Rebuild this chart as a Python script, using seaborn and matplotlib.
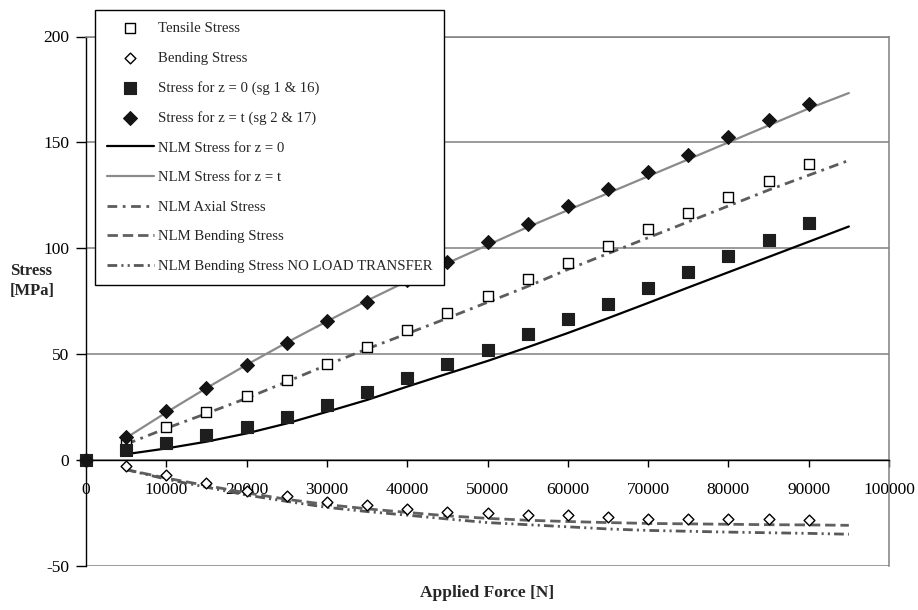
import matplotlib
matplotlib.use("Agg")
import matplotlib.pyplot as plt
import seaborn as sns

# ---------------- data ----------------
force_pts = [0, 5000, 10000, 15000, 20000, 25000, 30000, 35000, 40000, 45000,
             50000, 55000, 60000, 65000, 70000, 75000, 80000, 85000, 90000]
tensile = [0, 8, 15.5, 22.5, 30.5, 38, 45.5, 53.5, 61.5, 69.5,
           77.5, 85.5, 93, 101, 109, 116.5, 124, 132, 140]
bending = [0, -2.8, -6.8, -11, -14.7, -17, -19.7, -21.3, -23.2, -24.4,
           -25.2, -25.7, -26, -26.8, -27.6, -27.6, -27.9, -27.9, -28.1]
stress_z0 = [0, 4.7, 8.2, 11.8, 15.5, 20.5, 26, 32, 38.8, 45.2,
             52, 59.5, 66.5, 73.6, 81.2, 89, 96.5, 104, 112]
stress_zt = [0, 10.8, 23, 34, 45, 55.5, 65.8, 74.8, 84.8, 93.5,
             102.8, 111.4, 119.8, 127.8, 136, 144, 152.4, 160.6, 168.2]

force_nlm = [5000, 10000, 15000, 20000, 25000, 30000, 35000, 40000, 45000, 50000,
             55000, 60000, 65000, 70000, 75000, 80000, 85000, 90000, 95000]
nlm_z0 = [2.8, 5.5, 8.7, 12.6, 17.3, 22.8, 28.4, 34.7, 40.8, 46.8,
          53.3, 60, 67, 74.2, 81.5, 88.7, 95.9, 103.1, 110.3]
nlm_zt = [10.5, 22.5, 34, 45, 55.5, 65.5, 75.3, 84.5, 93, 101.5,
          110, 118, 126, 134, 142, 150, 158, 166, 173.3]
nlm_axial = [7.5, 15, 22, 29.2, 37, 44.9, 52.5, 59.7, 67, 74.5,
             82, 90, 97.5, 105, 112.5, 120, 127.5, 134.5, 141.5]
nlm_bending = [-4.5, -8.5, -12, -15.5, -18.5, -21, -23, -24.7, -26.3, -27.5,
               -28.4, -29, -29.5, -29.9, -30.1, -30.3, -30.5, -30.6, -30.8]
nlm_bending_nlt = [-4.5, -9, -12.8, -16.5, -19.5, -22.3, -24.3, -26, -27.8, -29.5,
                   -30.5, -31.5, -32.5, -33.2, -33.6, -34, -34.3, -34.6, -35]

x_ticks = [0, 10000, 20000, 30000, 40000, 50000, 60000, 70000, 80000, 90000, 100000]
x_tick_labels = ["0", "10000", "20000", "30000", "40000", "50000",
                 "60000", "70000", "80000", "90000", "100000"]
y_ticks = [-50, 0, 50, 100, 150, 200]
y_tick_labels = ["-50", "0", "50", "100", "150", "200"]

labels = ["Tensile Stress", "Bending Stress", "Stress for z = 0 (sg 1 & 16)",
          "Stress for z = t (sg 2 & 17)", "NLM Stress for z = 0", "NLM Stress for z = t",
          "NLM Axial Stress", "NLM Bending Stress", "NLM Bending Stress NO LOAD TRANSFER"]

# ---------------- style ----------------
sns.set_style("white")
plt.rcParams['font.family'] = ['Liberation Serif', 'DejaVu Serif']
plt.rcParams['lines.scale_dashes'] = False

W, H = 918, 610
fig = plt.figure(figsize=(W / 100, H / 100), dpi=100)
ax = fig.add_axes([86 / W, 1 - 566 / H, 803 / W, (566 - 36.5) / H])

# ---------------- lines ----------------
sns.lineplot(x=force_nlm, y=nlm_z0, color="black", lw=1.6, ax=ax,
             label=labels[4], zorder=3, sort=False)
sns.lineplot(x=force_nlm, y=nlm_zt, color="#8a8a8a", lw=1.6, ax=ax,
             label=labels[5], zorder=3, sort=False)
sns.lineplot(x=force_nlm, y=nlm_axial, color="#5c5c5c", lw=2.0, ax=ax,
             label=labels[6], zorder=3, sort=False, linestyle=(0, (7, 4, 2, 4)))
sns.lineplot(x=force_nlm, y=nlm_bending, color="#606060", lw=2.0, ax=ax,
             label=labels[7], zorder=3, sort=False, linestyle=(0, (7.5, 3.5)))
sns.lineplot(x=force_nlm, y=nlm_bending_nlt, color="#585858", lw=2.0, ax=ax,
             label=labels[8], zorder=3, sort=False,
             linestyle=(0, (7, 3, 1.5, 3, 1.5, 3)))

# ---------------- markers ----------------
sns.scatterplot(x=force_pts, y=tensile, marker="s", s=60, color="white",
                edgecolor="black", linewidth=1.0, ax=ax, label=labels[0],
                zorder=4, clip_on=False)
sns.scatterplot(x=force_pts, y=bending, marker="D", s=30, color="white",
                edgecolor="black", linewidth=1.0, ax=ax, label=labels[1],
                zorder=4, clip_on=False)
sns.scatterplot(x=force_pts, y=stress_z0, marker="s", s=72, color="#1e1e1e",
                edgecolor="#1e1e1e", linewidth=0.8, ax=ax, label=labels[2],
                zorder=4, clip_on=False)
sns.scatterplot(x=force_pts, y=stress_zt, marker="D", s=50, color="#141414",
                edgecolor="#141414", linewidth=0.8, ax=ax, label=labels[3],
                zorder=4, clip_on=False)

# ---------------- axes ----------------
ax.set_xlim(0, 100000)
ax.set_ylim(-50, 200)
ax.set_xticks(x_ticks)
ax.set_xticklabels(x_tick_labels)
ax.set_yticks(y_ticks)
ax.set_yticklabels(y_tick_labels)
ax.set_xlabel("")
ax.set_ylabel("")

ax.yaxis.grid(True, color="#808080", lw=1.1)
ax.xaxis.grid(False)
ax.set_axisbelow(True)

ax.spines["bottom"].set_position(("data", 0))
ax.spines["bottom"].set_color("black")
ax.spines["bottom"].set_linewidth(1.0)
ax.spines["bottom"].set_zorder(2.5)
ax.spines["left"].set_color("black")
ax.spines["left"].set_linewidth(1.0)
for s in ("top", "right"):
    ax.spines[s].set_visible(True)
    ax.spines[s].set_color("#808080")
    ax.spines[s].set_linewidth(1.1)

ax.tick_params(axis="x", direction="out", length=5, width=1, pad=11,
               labelsize=12.5, colors="black", bottom=True)
ax.tick_params(axis="y", direction="out", length=7, width=1, pad=5,
               labelsize=12.5, colors="black", left=True)

# axis titles
fig.text(487.5 / W, 1 - 593 / H, "Applied Force [N]", ha="center", va="center",
         fontweight="bold", fontsize=12.5)
fig.text(10 / W, 1 - 281 / H, "Stress\n[MPa]", ha="left", va="center",
         fontweight="bold", fontsize=12, linespacing=1.35)

# ---------------- legend ----------------
handles, labs = ax.get_legend_handles_labels()
if ax.get_legend() is not None:
    ax.get_legend().remove()
hmap = dict(zip(labs, handles))
leg = fig.legend([hmap[l] for l in labels], labels,
                 loc="upper left", bbox_to_anchor=(95 / W, 1 - 10 / H),
                 bbox_transform=fig.transFigure,
                 fontsize=10.65, frameon=True, fancybox=False, shadow=False,
                 framealpha=1, edgecolor="black", facecolor="white",
                 borderpad=0.78, labelspacing=1.1, handlelength=3.2,
                 handletextpad=0.3, borderaxespad=0)
leg.get_frame().set_linewidth(1.0)

fig.savefig("out.png", dpi=100)
